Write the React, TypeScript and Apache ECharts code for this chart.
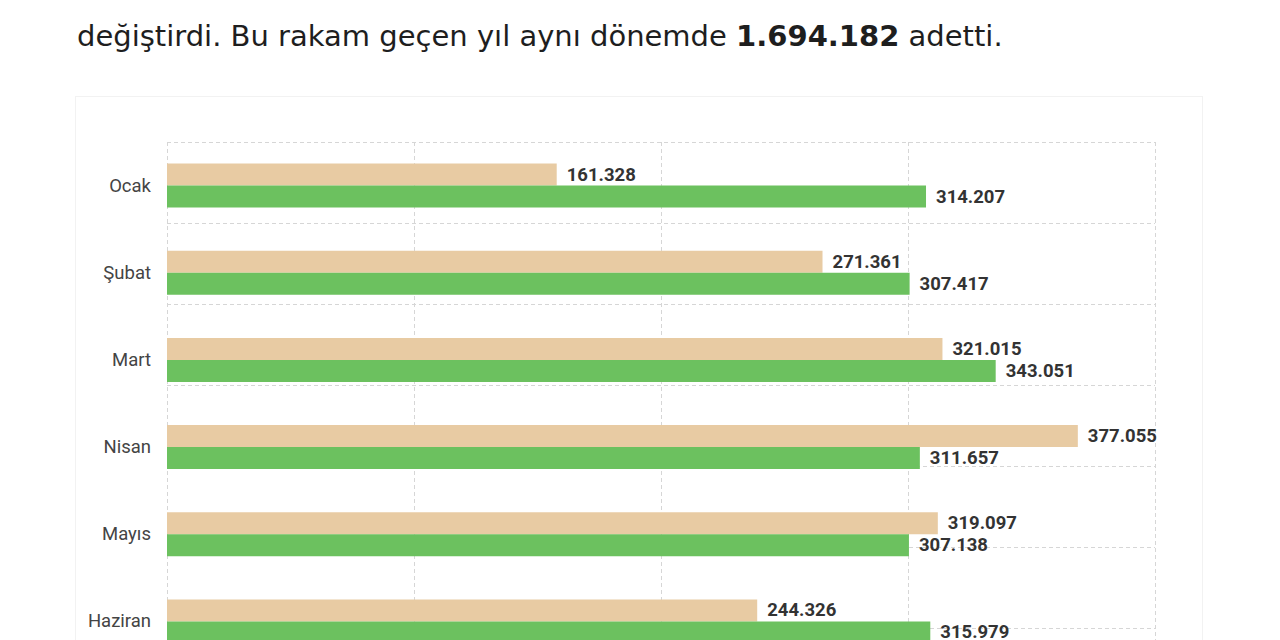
import * as echarts from "echarts";
import { useEffect, useRef } from "react";

// months, top to bottom
const months = ["Ocak", "Şubat", "Mart", "Nisan", "Mayıs", "Haziran"];
// previous year (tan) and this year (green)
const prevYear = [161328, 271361, 321015, 377055, 319097, 244326];
const thisYear = [314207, 307417, 343051, 311657, 307138, 315979];

const AXIS_MAX = 409000;
const AXIS_STEP = 102250;

const fmt = (v: number) => String(Math.round(v)).replace(/\B(?=(\d{3})+(?!\d))/g, ".");

const App = () => {
  const chartRef = useRef<HTMLDivElement>(null);

  useEffect(() => {
    if (!chartRef.current) return;
    const chart = echarts.init(chartRef.current, undefined, { renderer: "svg" });

    const label = {
      show: true,
      position: "right" as const,
      distance: 10,
      formatter: (p: any) => fmt(p.value),
      color: "#333",
      fontFamily: "Roboto",
      fontWeight: "bold" as const,
      fontSize: 18.5,
    };

    chart.setOption({
      animation: false,
      grid: { left: 167, top: 142, width: 988, height: 523 },
      xAxis: {
        type: "value",
        min: 0,
        max: AXIS_MAX,
        interval: AXIS_STEP,
        axisLabel: { show: false },
        axisLine: { show: false },
        axisTick: { show: false },
        splitLine: { lineStyle: { color: "#d6d6d6", type: [4, 3], width: 1 } },
      },
      yAxis: [
        {
          type: "category",
          data: months,
          inverse: true,
          axisLine: { show: false },
          axisTick: { show: false },
          splitLine: { show: false },
          axisLabel: { color: "#444", fontSize: 18.5, fontFamily: "Roboto", margin: 16 },
        },
        {
          // extra dashed rows of the plot background
          type: "value",
          min: 0,
          max: 6.46,
          interval: 1,
          inverse: true,
          position: "left",
          axisLabel: { show: false },
          axisLine: { show: false },
          axisTick: { show: false },
          splitLine: { lineStyle: { color: "#d6d6d6", type: [4, 3], width: 1 } },
        },
      ],
      series: [
        {
          type: "bar",
          name: "2023",
          data: prevYear,
          barWidth: 22,
          barGap: "0%",
          itemStyle: { color: "#E8CBA3" },
          label,
        },
        {
          type: "bar",
          name: "2024",
          data: thisYear,
          barWidth: 22,
          barGap: "0%",
          itemStyle: { color: "#6CC15F" },
          label,
        },
      ],
    });

    return () => {
      chart.dispose();
    };
  }, []);

  return (
    <div
      style={{
        position: "absolute",
        left: 0,
        top: 0,
        width: 1280,
        height: 640,
        overflow: "hidden",
        background: "#fff",
      }}
    >
      <div
        style={{
          position: "absolute",
          left: 77,
          top: 16,
          fontFamily: "'DejaVu Sans', sans-serif",
          fontSize: 29,
          lineHeight: "40px",
          color: "#1e1e1e",
          whiteSpace: "nowrap",
        }}
      >
        değiştirdi. Bu rakam geçen yıl aynı dönemde <b>1.694.182</b> adetti.
      </div>
      <div
        style={{
          position: "absolute",
          left: 75,
          top: 96,
          width: 1128,
          height: 600,
          border: "1px solid #f2f2f2",
          boxSizing: "border-box",
        }}
      />
      <div
        ref={chartRef}
        style={{ position: "absolute", left: 0, top: 0, width: 1280, height: 700 }}
      />
    </div>
  );
};

export default App;
